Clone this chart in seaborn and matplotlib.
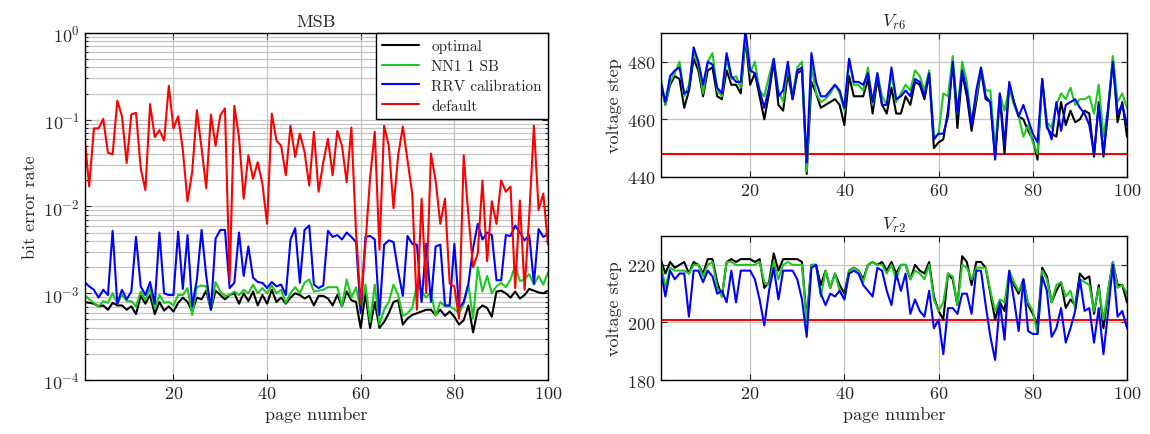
import numpy as np
import pandas as pd
import matplotlib
matplotlib.use("Agg")
import matplotlib.pyplot as plt
import seaborn as sns
from matplotlib.ticker import LogLocator, MultipleLocator

# ---------------- data ----------------
pages = list(range(1, 101))

# bit error rate of the MSB, stored as log10(BER)
msb_optimal_log = [
    -3.10, -3.11, -3.12, -3.15, -3.14, -3.19, -3.11, -3.14, -3.14, -3.19,
    -3.15, -3.24, -3.03, -3.12, -3.02, -3.24, -3.10, -3.20, -3.15, -3.21,
    -3.11, -3.05, -3.10, -3.21, -3.05, -3.07, -2.97, -3.19, -2.97, -3.02,
    -3.07, -3.02, -3.00, -3.12, -3.00, -3.09, -2.98, -3.14, -3.02, -3.12,
    -2.96, -3.10, -3.05, -3.12, -3.05, -3.00, -3.02, -3.06, -3.03, -3.14,
    -3.03, -3.03, -3.06, -3.14, -3.02, -3.15, -2.98, -3.08, -3.10, -3.40,
    -3.00, -3.40, -3.10, -3.40, -3.33, -3.23, -3.10, -3.08, -3.36, -3.29,
    -3.25, -3.23, -3.21, -3.19, -3.19, -3.25, -3.19, -3.26, -3.21, -3.27,
    -3.36, -3.31, -3.14, -3.45, -3.19, -3.14, -3.17, -3.27, -2.98, -2.97,
    -3.00, -3.05, -2.98, -3.06, -3.02, -2.95, -2.97, -2.99, -3.00, -2.97,
]
msb_nn1_log = [
    -3.02, -3.07, -3.11, -3.15, -3.09, -3.11, -3.00, -3.12, -3.02, -3.09,
    -3.09, -3.15, -2.98, -3.08, -2.94, -3.17, -3.02, -3.11, -3.10, -3.14,
    -3.02, -3.02, -2.94, -3.25, -2.93, -2.91, -2.92, -3.19, -2.87, -2.98,
    -3.03, -3.02, -2.98, -3.02, -2.96, -3.00, -2.90, -3.00, -2.94, -3.00,
    -2.91, -3.00, -2.96, -3.11, -3.00, -2.93, -3.00, -2.88, -2.84, -2.98,
    -2.97, -2.96, -2.93, -2.93, -2.93, -3.15, -2.84, -3.05, -2.93, -3.20,
    -2.90, -3.33, -2.90, -3.36, -3.19, -3.10, -2.90, -3.02, -3.26, -3.23,
    -3.17, -2.90, -2.98, -3.05, -2.98, -3.26, -3.10, -3.15, -3.15, -3.18,
    -3.23, -3.12, -2.90, -3.29, -2.70, -2.98, -2.80, -3.00, -2.92, -2.88,
    -2.93, -2.84, -2.68, -2.86, -2.84, -2.78, -2.90, -2.80, -2.90, -2.76,
]
msb_rrv_log = [
    -2.87, -2.92, -2.96, -3.05, -2.96, -3.02, -2.28, -3.12, -2.96, -3.07,
    -2.98, -2.35, -2.92, -3.02, -2.87, -3.12, -2.30, -3.00, -3.02, -3.02,
    -2.29, -2.95, -2.33, -3.15, -2.84, -2.27, -2.80, -3.19, -2.37, -2.27,
    -2.27, -2.94, -2.88, -2.30, -2.80, -2.46, -2.82, -2.87, -2.88, -2.94,
    -2.87, -2.92, -2.90, -3.02, -2.38, -2.25, -2.88, -2.27, -2.22, -2.90,
    -2.94, -2.91, -2.28, -2.35, -2.33, -2.38, -2.30, -2.35, -2.41, -3.23,
    -2.35, -2.34, -2.38, -3.25, -2.44, -2.39, -2.41, -2.75, -3.03, -2.34,
    -2.43, -2.44, -3.10, -2.43, -3.10, -2.46, -2.44, -3.14, -3.14, -2.43,
    -3.17, -3.10, -2.89, -2.48, -2.20, -2.38, -2.30, -2.33, -2.85, -2.85,
    -2.33, -2.34, -2.22, -2.30, -2.39, -2.33, -2.89, -2.26, -2.35, -2.32,
]
msb_default_log = [
    -1.19, -1.77, -1.10, -1.10, -0.99, -1.38, -1.40, -0.78, -0.96, -1.50,
    -0.94, -0.92, -1.56, -1.81, -0.82, -1.20, -1.12, -1.24, -0.61, -1.10,
    -0.96, -1.35, -1.94, -1.60, -0.89, -1.33, -1.79, -0.94, -1.30, -0.95,
    -0.87, -2.86, -0.84, -1.20, -1.91, -1.41, -1.68, -1.49, -1.74, -2.20,
    -0.93, -1.24, -1.30, -1.64, -1.07, -1.43, -1.16, -1.37, -1.76, -1.14,
    -1.83, -1.49, -1.22, -1.64, -1.13, -1.30, -1.72, -1.09, -2.30, -3.13,
    -2.44, -1.67, -1.14, -2.50, -1.07, -1.30, -2.02, -1.41, -1.08, -1.47,
    -1.85, -3.19, -1.91, -3.00, -1.39, -1.70, -2.20, -1.91, -2.89, -2.92,
    -3.29, -1.41, -2.10, -2.70, -2.54, -1.70, -2.63, -1.94, -2.20, -1.70,
    -1.83, -1.77, -2.94, -1.93, -2.96, -2.10, -1.07, -2.04, -1.85, -2.44,
]

# read voltage steps V_r6
vr6_optimal = [
    473, 465, 472, 475, 474, 464, 470, 481, 477, 468, 477, 478, 468, 467, 477, 472, 472, 469, 488, 472,
    476, 468, 460, 469, 480, 465, 463, 476, 467, 476, 477, 441, 473, 469, 464, 465, 466, 467, 465, 458,
    475, 468, 468, 468, 474, 462, 474, 465, 462, 471, 462, 462, 468, 465, 473, 472, 467, 476, 450, 452,
    453, 463, 480, 457, 476, 468, 456, 466, 477, 467, 466, 447, 468, 448, 472, 466, 461, 460, 456, 453,
    446, 474, 457, 455, 454, 466, 458, 463, 459, 460, 463, 462, 447, 466, 447, 463, 481, 459, 466, 454,
]
vr6_nn1 = [
    475, 465, 473, 476, 480, 468, 472, 483, 479, 469, 480, 483, 470, 468, 481, 474, 475, 471, 489, 476,
    480, 470, 468, 475, 481, 470, 466, 479, 468, 478, 480, 442, 479, 469, 466, 467, 469, 472, 469, 463,
    481, 472, 472, 470, 478, 465, 476, 468, 465, 476, 466, 469, 472, 470, 477, 475, 470, 477, 454, 455,
    469, 468, 482, 462, 480, 473, 459, 468, 478, 470, 470, 450, 469, 463, 471, 465, 461, 454, 458, 452,
    448, 473, 459, 457, 465, 469, 467, 471, 465, 467, 467, 468, 462, 472, 454, 464, 482, 466, 469, 464,
]
vr6_rrv = [
    473, 466, 475, 477, 478, 469, 470, 485, 480, 472, 480, 479, 471, 469, 483, 475, 473, 473, 491, 477,
    476, 470, 464, 471, 481, 468, 470, 480, 467, 477, 478, 445, 483, 473, 468, 468, 470, 472, 470, 464,
    481, 473, 473, 472, 476, 466, 476, 465, 465, 478, 467, 468, 470, 468, 474, 473, 468, 476, 453, 455,
    455, 461, 480, 462, 477, 470, 458, 470, 478, 468, 466, 446, 469, 451, 473, 466, 461, 465, 460, 455,
    452, 474, 458, 453, 466, 456, 465, 466, 467, 464, 462, 458, 448, 465, 448, 464, 480, 462, 465, 458,
]
vr6_default = 448

# read voltage steps V_r2
vr2_optimal = [
    222, 217, 221, 219, 220, 221, 217, 221, 220, 217, 222, 222, 214, 209, 221, 222, 221, 222, 222, 222,
    221, 222, 212, 214, 224, 218, 222, 222, 222, 222, 221, 201, 220, 220, 213, 218, 212, 217, 213, 210,
    218, 219, 218, 215, 220, 221, 220, 221, 218, 221, 217, 220, 220, 215, 220, 218, 217, 221, 209, 204,
    201, 217, 215, 206, 223, 221, 213, 221, 221, 219, 210, 201, 207, 204, 217, 213, 210, 215, 206, 203,
    199, 219, 216, 207, 211, 214, 205, 208, 206, 217, 215, 216, 203, 213, 198, 211, 221, 213, 213, 207,
]
vr2_nn1 = [
    221, 212, 219, 218, 218, 218, 217, 220, 220, 216, 220, 221, 212, 209, 221, 221, 220, 220, 220, 220,
    220, 221, 214, 213, 221, 215, 220, 221, 220, 220, 220, 200, 220, 220, 209, 218, 212, 217, 211, 208,
    218, 219, 218, 214, 220, 221, 220, 220, 217, 220, 215, 220, 220, 215, 218, 217, 215, 220, 208, 204,
    207, 217, 216, 206, 220, 219, 215, 219, 219, 219, 211, 204, 208, 207, 218, 214, 211, 214, 207, 204,
    196, 218, 215, 207, 213, 214, 209, 211, 205, 215, 214, 213, 204, 212, 201, 211, 221, 212, 213, 210,
]
vr2_rrv = [
    218, 209, 218, 215, 217, 217, 202, 218, 218, 214, 218, 216, 210, 211, 207, 218, 207, 218, 218, 218,
    215, 208, 199, 211, 219, 208, 218, 218, 218, 215, 208, 195, 219, 220, 210, 206, 210, 209, 211, 208,
    217, 218, 217, 213, 211, 209, 219, 218, 211, 206, 217, 211, 217, 203, 208, 204, 202, 211, 198, 201,
    189, 205, 205, 203, 210, 210, 203, 218, 218, 206, 195, 187, 207, 194, 218, 208, 197, 215, 197, 196,
    196, 216, 211, 195, 198, 205, 193, 198, 204, 215, 204, 205, 193, 205, 189, 204, 220, 202, 204, 198,
]
vr2_default = 201

labels = ["optimal", "NN1 1 SB", "RRV calibration", "default"]
colors = ["#000000", "#1ec81e", "#0000ff", "#ff0000"]

# ---------------- style ----------------
sns.set_style("ticks")
plt.rcParams["font.family"] = ["cmr10", "DejaVu Serif"]
plt.rcParams["mathtext.fontset"] = "cm"
plt.rcParams["axes.unicode_minus"] = False
plt.rcParams["axes.formatter.use_mathtext"] = True

fig = plt.figure(figsize=(11.5, 4.35), dpi=100)
ax_msb = fig.add_axes([0.0735, 0.124, 0.403, 0.798])
ax_r6 = fig.add_axes([0.5745, 0.591, 0.4055, 0.331])
ax_r2 = fig.add_axes([0.5745, 0.124, 0.4055, 0.331])

LW = 1.5
GRID = "#c4c4c4"

# ---------------- MSB (left) ----------------
msb = pd.DataFrame({
    "page": pages * 4,
    "ber": 10 ** np.concatenate([msb_optimal_log, msb_nn1_log, msb_rrv_log, msb_default_log]),
    "method": np.repeat(labels, len(pages)),
})
sns.lineplot(data=msb, x="page", y="ber", hue="method", hue_order=labels,
             palette=colors, linewidth=LW, ax=ax_msb)
ax_msb.set_yscale("log")
ax_msb.set_ylim(1e-4, 1)
ax_msb.yaxis.set_major_locator(LogLocator(base=10, numticks=10))
ax_msb.yaxis.set_minor_locator(LogLocator(base=10, subs=np.arange(2, 10), numticks=20))
ax_msb.grid(True, which="major", color=GRID, linewidth=0.9)
ax_msb.grid(True, which="minor", axis="y", color=GRID, linewidth=0.9)
ax_msb.set_ylabel("bit error rate", fontsize=13)
ax_msb.set_title("MSB", fontsize=13, pad=5)
leg = ax_msb.legend(loc="upper right", bbox_to_anchor=(1, 1), borderaxespad=0,
                    fontsize=11, handlelength=2.4, fancybox=False, framealpha=1,
                    edgecolor="black", labelspacing=0.4)
leg.get_frame().set_linewidth(1.0)
for h in leg.get_lines():
    h.set_linewidth(LW)

# ---------------- V_r6 / V_r2 (right) ----------------
def step_panel(ax, opt, nn1, rrv, default, ylim, title):
    ax.axhline(default, color=colors[3], linewidth=LW, zorder=2)
    step = pd.DataFrame({
        "page": pages * 3,
        "step": np.concatenate([opt, nn1, rrv]),
        "method": np.repeat(labels[:3], len(pages)),
    })
    sns.lineplot(data=step, x="page", y="step", hue="method", hue_order=labels[:3],
                 palette=colors[:3], linewidth=LW, legend=False, ax=ax)
    ax.set_ylim(*ylim)
    ax.yaxis.set_major_locator(MultipleLocator(20))
    ax.grid(True, which="major", color=GRID, linewidth=0.9)
    ax.set_ylabel("voltage step", fontsize=13)
    ax.set_title(title, fontsize=13, pad=5)

step_panel(ax_r6, vr6_optimal, vr6_nn1, vr6_rrv, vr6_default, (440, 490), r"$V_{r6}$")
step_panel(ax_r2, vr2_optimal, vr2_nn1, vr2_rrv, vr2_default, (180, 230), r"$V_{r2}$")

for ax in (ax_msb, ax_r6, ax_r2):
    ax.set_xlim(1, 100)
    ax.set_xticks([20, 40, 60, 80, 100])
    ax.set_axisbelow(True)
    ax.tick_params(direction="in", which="both", top=True, right=True,
                   labelsize=13, length=4, width=0.8)
    ax.tick_params(which="minor", length=2.5)
    for s in ax.spines.values():
        s.set_color("black")
        s.set_linewidth(1.0)
    ax.set_xlabel("")

ax_msb.set_xlabel("page number", fontsize=13)
ax_r2.set_xlabel("page number", fontsize=13)
ax_r6.tick_params(labelbottom=True)

fig.savefig("out.png", dpi=100)
